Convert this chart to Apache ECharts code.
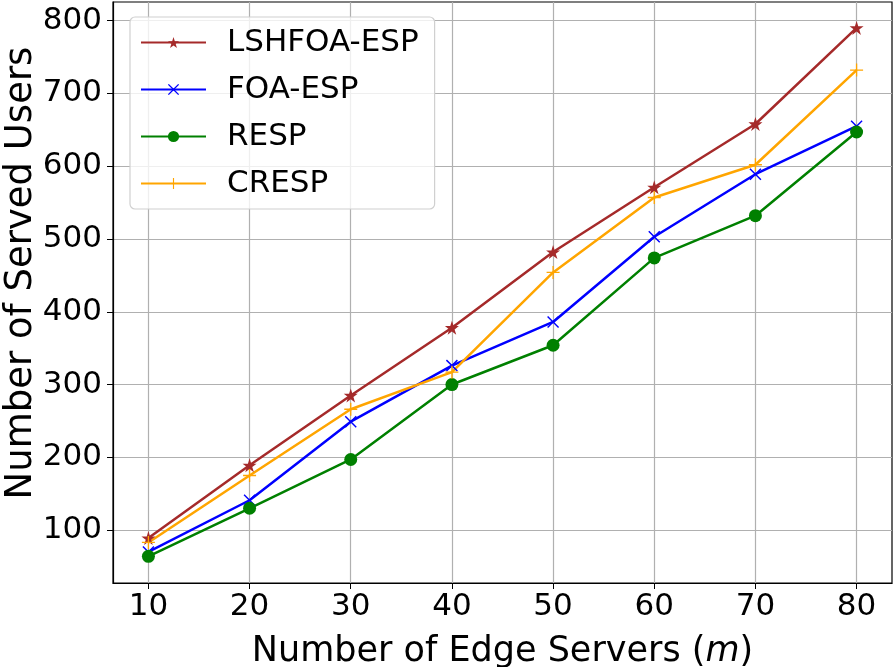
<!DOCTYPE html>
<html>
<head>
<meta charset="utf-8">
<script src="https://cdn.jsdelivr.net/npm/echarts@6/dist/echarts.min.js"></script>
<style>html,body{margin:0;padding:0;background:#fff;}#c{width:896px;height:667px;}</style>
</head>
<body>
<div id="c"></div>
<script>
const servers = [10, 20, 30, 40, 50, 60, 70, 80];
const lshfoaEsp = [89, 189, 285, 378, 482, 571, 658, 790];
const foaEsp = [70, 141, 249, 326, 386, 503, 589, 655];
const resp = [64, 130, 197, 300, 354, 474, 532, 647];
const cresp = [83, 175, 266, 317, 454, 557, 602, 732];
const xTicks = [10, 20, 30, 40, 50, 60, 70, 80];
const yTicks = [100, 200, 300, 400, 500, 600, 700, 800];
const yTitle = 'Number of Served Users';

const FONT = 'DejaVu Sans';
const starPath = 'path://M10,0L12.25,6.91L19.51,6.91L13.63,11.18L15.88,18.09L10,13.82L4.12,18.09L6.37,11.18L0.49,6.91L7.75,6.91Z';
const xPath = 'path://M0,1.7L1.7,0L10,8.3L18.3,0L20,1.7L11.7,10L20,18.3L18.3,20L10,11.7L1.7,20L0,18.3L8.3,10Z';
const plusPath = 'path://M9,0H11V9H20V11H11V20H9V11H0V9H9Z';

function mk(name, data, color, symbol, size) {
  return {
    name: name, type: 'line',
    data: servers.map((x, i) => [x, data[i]]),
    symbol: symbol, symbolSize: size, showSymbol: true,
    lineStyle: { color: color, width: 2.5 },
    itemStyle: { color: color, borderWidth: 0 },
    emphasis: { disabled: true },
    animation: false
  };
}

const chart = echarts.init(document.getElementById('c'), null, { renderer: 'canvas' });
chart.setOption({
  animation: false,
  grid: { left: 113, right: 4, top: 2, bottom: 84, outerBoundsMode: 'none', containLabel: false, show: true, borderColor: '#000', borderWidth: 1.2, backgroundColor: 'transparent' },
  graphic: [{
    type: 'text', x: 21, y: 273, rotation: Math.PI / 2, silent: true,
    style: { text: yTitle, fontFamily: FONT, fontSize: 37, fill: '#000', align: 'center', verticalAlign: 'middle' }
  }],
  legend: {
    left: 130, top: 17, orient: 'vertical',
    itemWidth: 65, itemHeight: 14, itemGap: 16,
    padding: [10, 16, 10, 10],
    backgroundColor: 'rgba(255,255,255,0.8)',
    borderColor: '#d0d0d0', borderWidth: 1.2, borderRadius: 5,
    textStyle: { fontFamily: FONT, fontSize: 31, color: '#000', padding: [0, 0, 0, 16] },
    data: ['LSHFOA-ESP', 'FOA-ESP', 'RESP', 'CRESP']
  },
  xAxis: {
    type: 'value', min: 6.5, max: 83.5,
    name: '{a|Number of Edge Servers (}{i|m}{a|)}',
    nameLocation: 'middle', nameGap: 51,
    nameTextStyle: { rich: { a: { fontFamily: FONT, fontSize: 35, color: '#000' }, i: { fontFamily: FONT, fontSize: 35, fontStyle: 'italic', color: '#000' } } },
    axisLine: { show: true, onZero: false, lineStyle: { color: '#000', width: 1.2 } },
    axisTick: { show: true, inside: false, length: 6, customValues: xTicks, lineStyle: { color: '#000', width: 1 } },
    axisLabel: { customValues: xTicks, fontFamily: FONT, fontSize: 31, color: '#000', margin: 8 },
    splitLine: { show: true, lineStyle: { color: '#b0b0b0', width: 1.2 } }
  },
  yAxis: {
    type: 'value', min: 27.3, max: 825.6,
    axisLine: { show: true, onZero: false, lineStyle: { color: '#000', width: 1.2 } },
    axisTick: { show: true, inside: false, length: 6, customValues: yTicks, lineStyle: { color: '#000', width: 1 } },
    axisLabel: { customValues: yTicks, fontFamily: FONT, fontSize: 31, color: '#000', margin: 11 },
    splitLine: { show: true, lineStyle: { color: '#b0b0b0', width: 1.2 } }
  },
  series: [
    mk('LSHFOA-ESP', lshfoaEsp, '#a52a2a', starPath, 14),
    mk('FOA-ESP', foaEsp, '#0000ff', xPath, 12),
    mk('RESP', resp, '#008000', 'circle', 13),
    mk('CRESP', cresp, '#ffa500', plusPath, 13)
  ]
});
</script>
</body>
</html>
